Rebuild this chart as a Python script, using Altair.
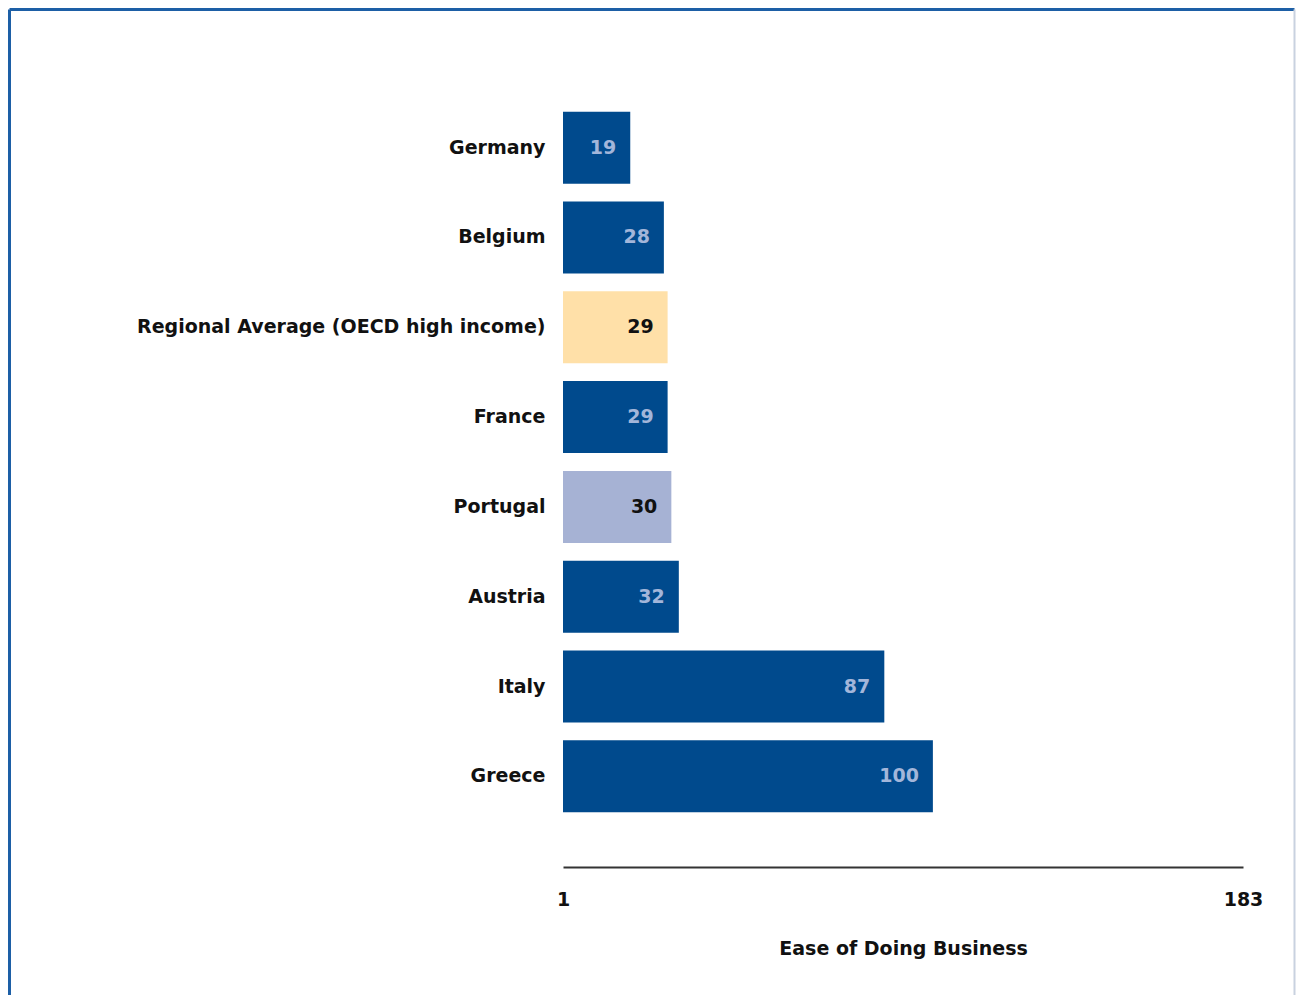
import altair as alt
import pandas as pd

countries = ["Germany", "Belgium", "Regional Average (OECD high income)", "France",
             "Portugal", "Austria", "Italy", "Greece"]
ranks = [19, 28, 29, 29, 30, 32, 87, 100]
bar_colors = ["#004A8D", "#004A8D", "#FFE0A8", "#004A8D", "#A6B2D4", "#004A8D", "#004A8D", "#004A8D"]
text_colors = ["#A3B6DA", "#A3B6DA", "#111111", "#A3B6DA", "#111111", "#A3B6DA", "#A3B6DA", "#A3B6DA"]
axis_min, axis_max = 1, 183

df = pd.DataFrame({"country": countries, "rank": ranks, "base": [axis_min] * len(countries),
                   "bar_color": bar_colors, "text_color": text_colors})

FONT = "DejaVu Sans"
FS = 19

x_scale = alt.Scale(domain=[axis_min, axis_max], nice=False, zero=False)
y_enc = alt.Y("country:N", sort=None,
              scale=alt.Scale(paddingInner=0.2, paddingOuter=0.61),
              axis=alt.Axis(title=None, domain=False, ticks=False, labelPadding=18,
                            labelFont=FONT, labelFontSize=FS, labelFontWeight="bold",
                            labelColor="#111111", labelLimit=600))

base = alt.Chart(df)

bars = base.mark_bar(size=72).encode(
    x=alt.X("base:Q", scale=x_scale,
            axis=alt.Axis(values=[axis_min, axis_max], title="Ease of Doing Business",
                          ticks=False, grid=False, domainColor="#333333", domainWidth=2,
                          labelFont=FONT, labelFontSize=FS, labelFontWeight="bold",
                          labelColor="#111111", labelPadding=23, labelFlush=False,
                          titleFont=FONT, titleFontSize=FS, titleFontWeight="bold",
                          titleColor="#111111", titlePadding=30)),
    x2="rank:Q",
    y=y_enc,
    color=alt.Color("bar_color:N", scale=None),
)

labels = base.mark_text(align="right", baseline="middle", dx=-14, font=FONT,
                        fontSize=FS, fontWeight="bold").encode(
    x=alt.X("rank:Q", scale=x_scale),
    y=alt.Y("country:N", sort=None),
    text="rank:Q",
    color=alt.Color("text_color:N", scale=None),
)

one = alt.Data(values=[{"k": 1}])
frame_top = alt.Chart(one).mark_rule(color="#1D5FA6", strokeWidth=3).encode(
    x=alt.value(-553.5), x2=alt.value(731.5), y=alt.value(-47.5))
frame_left = alt.Chart(one).mark_rule(color="#1D5FA6", strokeWidth=3).encode(
    x=alt.value(-553.5), y=alt.value(-47.5), y2=alt.value(940))
frame_right = alt.Chart(one).mark_rule(color="#C9D2E0", strokeWidth=2).encode(
    x=alt.value(731.5), y=alt.value(-47.5), y2=alt.value(940))

chart = alt.layer(bars, labels, frame_top, frame_left, frame_right).properties(
    width=680, height=810,
    autosize=alt.AutoSizeParams(type="none"),
    padding={"left": 555, "top": 49, "right": 53, "bottom": 128},
).configure(background="white", view=alt.ViewConfig(stroke=None, strokeWidth=0))

chart.save("out.html", embed_options={"renderer": "svg", "actions": False})
